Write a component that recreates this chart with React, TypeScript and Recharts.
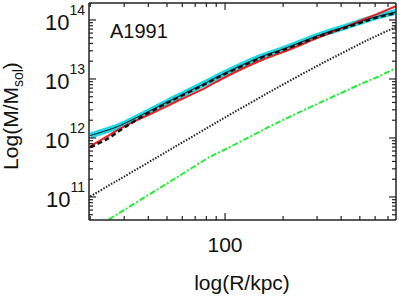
import React from "react";
import { ComposedChart, Line, XAxis, YAxis, Customized } from "recharts";

// radius in kpc
const radius = [20, 25, 30, 40, 50, 60, 80, 100, 150, 200, 300, 400, 500, 600, 770];
// enclosed mass, M_sol
const massBand = [1.10e12, 1.38e12, 1.75e12, 2.80e12, 4.05e12, 5.45e12, 8.70e12, 1.26e13, 2.30e13, 3.22e13, 5.36e13, 7.31e13, 9.25e13, 1.12e14, 1.37e14];
const massDashed = [6.90e11, 1.00e12, 1.50e12, 2.65e12, 3.92e12, 5.27e12, 8.41e12, 1.22e13, 2.21e13, 3.10e13, 5.15e13, 7.03e13, 8.90e13, 1.08e14, 1.31e14];
const massRed = [7.29e11, 1.11e12, 1.57e12, 2.45e12, 3.47e12, 4.62e12, 7.23e12, 1.07e13, 2.00e13, 2.85e13, 4.92e13, 7.15e13, 9.62e13, 1.22e14, 1.71e14];
const massDotted = [1.02e11, 1.57e11, 2.22e11, 3.85e11, 5.91e11, 8.39e11, 1.45e12, 2.23e12, 4.76e12, 8.07e12, 1.66e13, 2.70e13, 3.92e13, 5.25e13, 7.61e13];
const massGreen = [null, 4.16e10, 6.02e10, 1.08e11, 1.69e11, 2.45e11, 4.41e11, 6.38e11, 1.26e12, 2.02e12, 3.77e12, 5.79e12, 8.07e12, 1.04e13, 1.53e13];

const xTicks = [20, 30, 40, 50, 60, 70, 80, 90, 100, 200, 300, 400, 500, 600, 700];
const xLabels = [100];
const yDecades = [1e10, 1e11, 1e12, 1e13, 1e14];
const yLabels = [1e11, 1e12, 1e13, 1e14];
const minorSteps = [1, 2, 3, 4, 5, 6, 7, 8, 9];

const xDomain = [19.7, 770];
const yDomain = [4.07e10, 1.94e14];

const yTicks = yDecades
  .flatMap((d) => minorSteps.map((m) => d * m))
  .filter((v) => v >= yDomain[0] && v <= yDomain[1]);

const data = radius.map((r, i) => ({
  r,
  band: massBand[i],
  dashed: massDashed[i],
  red: massRed[i],
  dotted: massDotted[i],
  green: massGreen[i],
}));

const FONT = "Liberation Sans, Arial, sans-serif";
const AXIS = "#222";

const isLabelY = (v: number) => yLabels.some((d) => Math.abs(v / d - 1) < 1e-6);

const BottomTick = (p: any) => {
  const { x, y, payload } = p;
  const major = xLabels.includes(payload.value);
  return (
    <g>
      <line x1={x} x2={x} y1={y} y2={y - (major ? 7 : 4)} stroke={AXIS} strokeWidth={1.2} />
      {major && (
        <text x={x} y={y + 32} textAnchor="middle" fontSize={21} fontFamily={FONT} fill="#111">
          {payload.value}
        </text>
      )}
    </g>
  );
};

const TopTick = (p: any) => {
  const { x, y, payload } = p;
  const major = xLabels.includes(payload.value);
  return <line x1={x} x2={x} y1={y} y2={y + (major ? 7 : 4)} stroke={AXIS} strokeWidth={1.2} />;
};

const LeftTick = (p: any) => {
  const { x, y, payload } = p;
  const major = isLabelY(payload.value);
  const exp = Math.round(Math.log10(payload.value));
  return (
    <g>
      <line x1={x} x2={x + (major ? 7 : 4)} y1={y} y2={y} stroke={AXIS} strokeWidth={1.2} />
      {major && (
        <text x={85} y={y + 10} textAnchor="end" fontSize={22} fontFamily={FONT} fill="#111">
          <tspan>10</tspan>
          <tspan dy={-15} fontSize={14}>{exp}</tspan>
        </text>
      )}
    </g>
  );
};

const RightTick = (p: any) => {
  const { x, y, payload } = p;
  const major = isLabelY(payload.value);
  return <line x1={x} x2={x - (major ? 7 : 4)} y1={y} y2={y} stroke={AXIS} strokeWidth={1.2} />;
};

const YTitle = () => (
  <text
    x={18}
    y={116}
    transform="rotate(-90 18 116)"
    textAnchor="middle"
    fontSize={21}
    fontFamily={FONT}
    fill="#111"
  >
    <tspan>Log(M/M</tspan>
    <tspan fontSize={14} dy={5}>sol</tspan>
    <tspan dy={-5}>)</tspan>
  </text>
);

const XTitle = () => (
  <text x={242} y={290} textAnchor="middle" fontSize={21} fontFamily={FONT} fill="#111">
    log(R/kpc)
  </text>
);

const Title = () => (
  <text x={110} y={38} fontSize={20} fontFamily={FONT} fill="#111">
    A1991
  </text>
);

export default function App() {
  return (
    <div style={{ position: "absolute", left: 0, top: 0, width: 399, height: 298, background: "#fff" }}>
      <ComposedChart width={399} height={298} data={data} margin={{ top: 0, right: 0, bottom: 0, left: 0 }}>
        <XAxis
          xAxisId="b"
          dataKey="r"
          type="number"
          scale="log"
          domain={xDomain}
          allowDataOverflow
          ticks={xTicks}
          interval={0}
          tickSize={0}
          tickMargin={0}
          tickLine={false}
          tick={BottomTick}
          height={78}
          stroke={AXIS}
          strokeWidth={1.5}
        />
        <XAxis
          xAxisId="t"
          orientation="top"
          dataKey="r"
          type="number"
          scale="log"
          domain={xDomain}
          allowDataOverflow
          ticks={xTicks}
          interval={0}
          tickSize={0}
          tickMargin={0}
          tickLine={false}
          tick={TopTick}
          height={3}
          stroke={AXIS}
          strokeWidth={1.5}
        />
        <YAxis
          yAxisId="l"
          type="number"
          scale="log"
          domain={yDomain}
          allowDataOverflow
          ticks={yTicks}
          interval={0}
          tickSize={0}
          tickMargin={0}
          tickLine={false}
          tick={LeftTick}
          width={89}
          stroke={AXIS}
          strokeWidth={1.5}
        />
        <YAxis
          yAxisId="r"
          orientation="right"
          type="number"
          scale="log"
          domain={yDomain}
          allowDataOverflow
          ticks={yTicks}
          interval={0}
          tickSize={0}
          tickMargin={0}
          tickLine={false}
          tick={RightTick}
          width={3}
          stroke={AXIS}
          strokeWidth={1.5}
        />
        <Line xAxisId="b" yAxisId="l" dataKey="green" type="natural" stroke="#22ee33" strokeWidth={2} strokeDasharray="6 2 2 2" dot={false} isAnimationActive={false} />
        <Line xAxisId="b" yAxisId="l" dataKey="dotted" type="natural" stroke="#222" strokeWidth={2} strokeDasharray="1.5 1.5" dot={false} isAnimationActive={false} />
        <Line xAxisId="b" yAxisId="l" dataKey="band" type="natural" stroke="#1cd8e6" strokeWidth={6} dot={false} isAnimationActive={false} />
        <Line xAxisId="b" yAxisId="l" dataKey="red" type="natural" stroke="#ee1c1c" strokeWidth={2} dot={false} isAnimationActive={false} />
        <Line xAxisId="b" yAxisId="l" dataKey="band" type="natural" stroke="#111" strokeWidth={1} dot={false} isAnimationActive={false} />
        <Line xAxisId="b" yAxisId="l" dataKey="dashed" type="natural" stroke="#111" strokeWidth={2.5} strokeDasharray="5 3" dot={false} isAnimationActive={false} />
        <Customized component={Title} />
        <Customized component={XTitle} />
        <Customized component={YTitle} />
      </ComposedChart>
    </div>
  );
}
